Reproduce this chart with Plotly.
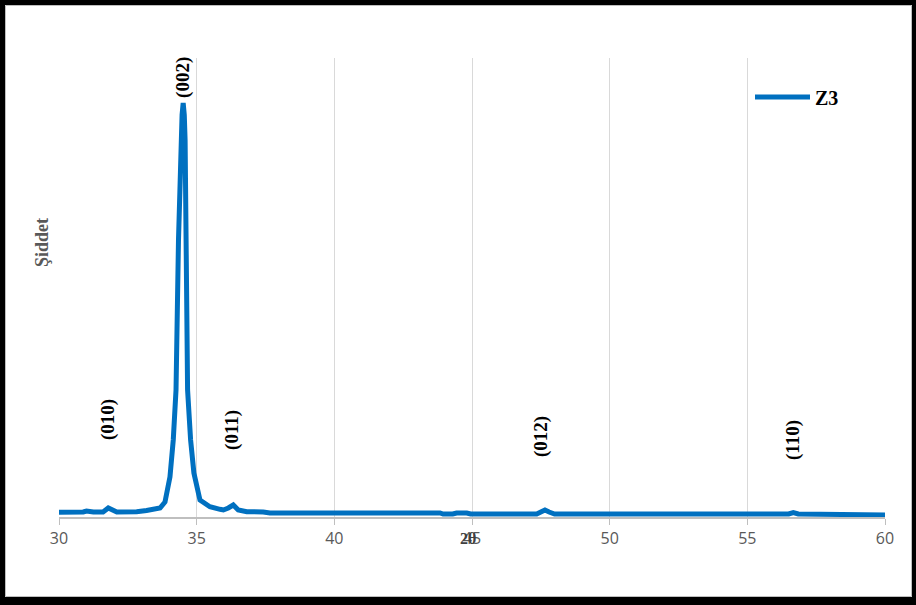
import plotly.graph_objects as go

# Data (2θ in degrees, intensity in arbitrary units)
two_theta = [30.0, 30.5, 30.88, 31.0, 31.25, 31.6, 31.79, 32.1, 32.5, 32.82, 33.18, 33.43,
             33.67, 33.85, 34.03, 34.15, 34.25, 34.34, 34.43, 34.47, 34.51, 34.55, 34.58,
             34.62, 34.67, 34.78, 34.9, 35.12, 35.36, 35.48, 35.85, 35.97, 36.15, 36.33,
             36.51, 36.82, 37.42, 37.66, 43.84, 43.95, 44.3, 44.44, 44.81, 44.95, 47.35,
             47.5, 47.65, 47.8, 48.0, 56.5, 56.67, 56.85, 58.25, 58.35, 60.0]
intensity = [4.7, 4.7, 5, 6, 5, 5, 9, 5, 5, 5.3, 6.5, 8,
             9, 15, 40, 77, 127, 277, 377, 402, 414, 402, 377,
             277, 127, 77, 44, 17, 12, 10.3, 7.7, 7, 9, 12,
             7, 5.3, 5, 4, 4, 3, 3, 4, 4, 3, 3,
             5, 7, 5, 3, 3, 4.5, 3, 3, 2, 2]

series_name = "Z3"
peak_labels = ["(010)", "(002)", "(011)", "(012)", "(110)"]
peak_x = [31.78, 34.50, 36.28, 47.51, 56.66]
peak_y = [97, 440, 87, 80, 77]
x_ticks = [30, 35, 40, 45, 50, 55, 60]

W, H = 916, 605
L, R, T, B = 59, 31, 58, 88
PW, PH = W - L - R, H - T - B


def px(x):
    return (x - L) / PW


def py(y):
    return (H - B - y) / PH


SERIF = "Liberation Serif, Times New Roman, serif"

fig = go.Figure()
fig.add_trace(go.Scatter(
    x=two_theta, y=intensity, mode="lines", name="<b>%s</b>" % series_name,
    line=dict(color="#0070C0", width=5),
))

annotations = []
for lab, xv, yv in zip(peak_labels, peak_x, peak_y):
    annotations.append(dict(
        x=xv, y=yv, xref="x", yref="y", text="<b>%s</b>" % lab, showarrow=False,
        textangle=-90, xanchor="center", yanchor="middle",
        font=dict(family=SERIF, size=19, color="#000000"),
    ))
# x-axis title "2θ" (overlapping the 45 label, as in the reference)
annotations.append(dict(
    x=44.85, y=py(538), xref="x", yref="paper", text="<b>2θ</b>", showarrow=False,
    xanchor="center", yanchor="middle",
    font=dict(family=SERIF, size=16, color="#404040"),
))
# y-axis title
annotations.append(dict(
    x=px(42), y=py(243), xref="paper", yref="paper", text="<b>Şiddet</b>", showarrow=False,
    textangle=-90, xanchor="center", yanchor="middle",
    font=dict(family=SERIF, size=18, color="#595959"),
))

shapes = []
# outer frame
for x0, y0, x1, y1 in [(0, 0, 5, H), (W - 4, 0, W, H), (0, 0, W, 5), (0, H - 8, W, H)]:
    shapes.append(dict(type="rect", xref="paper", yref="paper",
                       x0=px(x0), x1=px(x1), y0=py(y0), y1=py(y1),
                       fillcolor="#000000", line=dict(width=0), layer="above"))
shapes.append(dict(type="rect", xref="paper", yref="paper",
                   x0=px(5.5), x1=px(W - 4.5), y0=py(5.5), y1=py(H - 8.5),
                   line=dict(color="#BFBFBF", width=1), layer="above"))

fig.update_layout(
    width=W, height=H,
    margin=dict(l=L, r=R, t=T, b=B),
    paper_bgcolor="#FFFFFF", plot_bgcolor="#FFFFFF",
    showlegend=True,
    legend=dict(x=px(750), y=py(97), xanchor="left", yanchor="middle",
                bgcolor="rgba(0,0,0,0)", itemwidth=55,
                font=dict(family=SERIF, size=20, color="#000000")),
    xaxis=dict(range=[30, 60], tickvals=x_ticks, ticktext=[str(v) for v in x_ticks],
               showgrid=True, gridcolor="#D9D9D9", gridwidth=1,
               showline=True, linecolor="#BFBFBF", linewidth=2,
               ticks="outside", ticklen=6, tickcolor="#BFBFBF",
               tickfont=dict(family="Open Sans, sans-serif", size=16, color="#595959"),
               zeroline=False),
    yaxis=dict(range=[0, PH], showticklabels=False, showgrid=False, zeroline=False,
               showline=False, ticks=""),
    annotations=annotations,
    shapes=shapes,
)

fig.write_html("out.html")
